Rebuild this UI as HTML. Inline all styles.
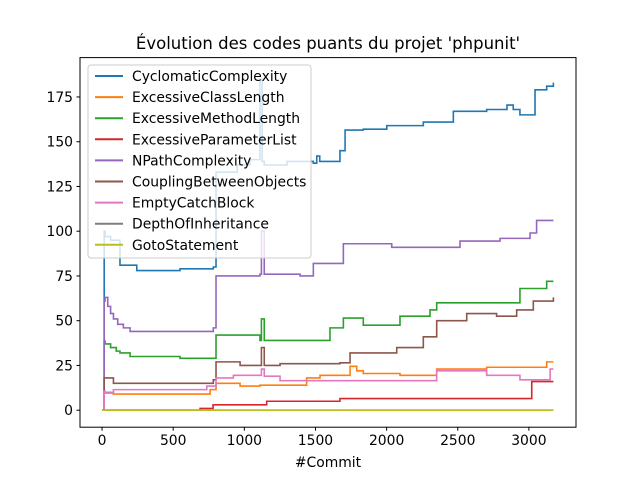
<!DOCTYPE html>
<html><head><meta charset="utf-8"><style>
body{margin:0;background:#fff}
svg{font-family:"DejaVu Sans","Liberation Sans",sans-serif}
</style></head><body>
<svg id="c" width="640" height="480" viewBox="0 0 640 480">
<rect width="640" height="480" fill="#fff"/>
<text x="328" y="49" text-anchor="middle" font-size="16.5">Évolution des codes puants du projet 'phpunit'</text>
<g id="plot"></g>
<rect x="80" y="57.6" width="496" height="369.6" fill="none" stroke="#000" stroke-width="1"/>
<g id="ticks"></g>
<text x="328" y="467" text-anchor="middle" font-size="13.9">#Commit</text>
<g id="legend"></g>
</svg>
<script>
const xTicks=[0,500,1000,1500,2000,2500,3000];
const yTicks=[0,25,50,75,100,125,150,175];
const names=["CyclomaticComplexity","ExcessiveClassLength","ExcessiveMethodLength","ExcessiveParameterList","NPathComplexity","CouplingBetweenObjects","EmptyCatchBlock","DepthOfInheritance","GotoStatement"];
const colors=["#1f77b4","#ff7f0e","#2ca02c","#d62728","#9467bd","#8c564b","#e377c2","#7f7f7f","#bcbd22"];
const cycX=[0,15,21,60,126,244,548,782,801,950,1040,1110,1125,1140,1300,1485,1509,1530,1625,1672,1708,1836,2001,2258,2469,2703,2846,2890,2937,3031,3043,3125,3172];
const cycY=[0,100,97,95,81,78,79,80,133,137,140,185,139,137,139,138,142,139,139,145,156.5,157,159,161,167,168,170.5,168,165,165,179,181,183];
const eclX=[0,15,80,548,759,801,970,1110,1438,1532,1672,1743,1790,1836,2094,2352,2703,3125,3172];
const eclY=[0,9.6,9,9,11.5,15,13.5,14,18,19.5,19.5,24.5,22,20.5,19.5,23,24,27,27];
const emlX=[0,15,21,60,100,126,197,548,782,801,1110,1120,1140,1392,1602,1696,1836,2094,2305,2352,2937,3125,3172];
const emlY=[0,38.6,37,35,33,32,30,29,29,42,39,51,39,39,46,51.5,47.5,52.5,56,60,68,72,72];
const eplX=[0,689,780,1157,1532,1672,3008,3020,3172];
const eplY=[0,1,3,5,5,6.5,6.5,16,16];
const npcX=[0,15,21,40,60,80,110,150,197,548,782,801,1110,1120,1140,1392,1485,1625,1696,2036,2516,2797,3008,3054,3172];
const npcY=[0,61,63,58,54,51,48,46,44,44,46,75,76,100,76,75,82,82,93,91,94.5,96,99,106,106];
const cboX=[0,15,21,80,548,782,801,970,1110,1120,1140,1251,1672,1743,2071,2258,2352,2563,2773,2914,3031,3172];
const cboY=[0,18,18,15,15,17,27,25,25,35,25,26,26.5,32,35,41,50,54,52.5,56,61,63];
const ecbX=[0,15,21,80,736,801,923,1110,1120,1140,1251,2352,2703,2937,3149,3172];
const ecbY=[0,10.6,10,11.5,13.5,18,19.5,19.5,23,19,16.5,22,19.5,17,23,23];
const doiX=[0,3172];
const doiY=[0,0];
const gotoX=[0,3172];
const gotoY=[0,0];
const seriesX=[cycX,eclX,emlX,eplX,npcX,cboX,ecbX,doiX,gotoX];
const seriesY=[cycY,eclY,emlY,eplY,npcY,cboY,ecbY,doiY,gotoY];

const L=80,R=576,T=57.6,B=427.2;
const xmin=-155,xmax=3331,ymin=-9.5,ymax=197;
const sx=v=>L+(v-xmin)/(xmax-xmin)*(R-L);
const sy=v=>B-(v-ymin)/(ymax-ymin)*(B-T);
const NS="http://www.w3.org/2000/svg";
const plot=document.getElementById('plot');
seriesX.forEach((xs,i)=>{
  const ys=seriesY[i];
  let d="M"+sx(xs[0])+","+sy(ys[0]);
  for(let k=1;k<xs.length;k++){d+=" H"+sx(xs[k])+" V"+sy(ys[k]);}
  const p=document.createElementNS(NS,'path');
  p.setAttribute('d',d);p.setAttribute('fill','none');
  p.setAttribute('stroke',colors[i]);p.setAttribute('stroke-width','1.6');
  
  
  plot.appendChild(p);
});
const tg=document.getElementById('ticks');
xTicks.forEach(v=>{
  const l=document.createElementNS(NS,'line');
  l.setAttribute('x1',sx(v));l.setAttribute('x2',sx(v));l.setAttribute('y1',B);l.setAttribute('y2',B+3.5);l.setAttribute('stroke','#000');
  
  
  tg.appendChild(l);
  const t=document.createElementNS(NS,'text');
  t.setAttribute('x',sx(v));t.setAttribute('y',B+18);t.setAttribute('text-anchor','middle');t.setAttribute('font-size','13.9');t.textContent=v;
  
  
  tg.appendChild(t);
});
yTicks.forEach(v=>{
  const l=document.createElementNS(NS,'line');
  l.setAttribute('x1',L-3.5);l.setAttribute('x2',L);l.setAttribute('y1',sy(v));l.setAttribute('y2',sy(v));l.setAttribute('stroke','#000');
  
  
  tg.appendChild(l);
  const t=document.createElementNS(NS,'text');
  t.setAttribute('x',L-7);t.setAttribute('y',sy(v)+5);t.setAttribute('text-anchor','end');t.setAttribute('font-size','13.9');t.textContent=v;
  
  
  tg.appendChild(t);
});
const lg=document.getElementById('legend');
const box=document.createElementNS(NS,'rect');
box.setAttribute('x',88);box.setAttribute('y',65);box.setAttribute('width',223);box.setAttribute('height',193);box.setAttribute('rx',3);
box.setAttribute('fill','rgba(255,255,255,0.8)');box.setAttribute('stroke','#ccc');


lg.appendChild(box);
names.forEach((n,i)=>{
  const y=76+i*21.1;
  const l=document.createElementNS(NS,'line');
  l.setAttribute('x1',95);l.setAttribute('x2',123);l.setAttribute('y1',y);l.setAttribute('y2',y);l.setAttribute('stroke',colors[i]);l.setAttribute('stroke-width','2');
  
  
  lg.appendChild(l);
  const t=document.createElementNS(NS,'text');
  t.setAttribute('x',132);t.setAttribute('y',y+5);t.setAttribute('font-size','13.9');t.textContent=n;
  
  
  lg.appendChild(t);
});
</script>
</body></html>
